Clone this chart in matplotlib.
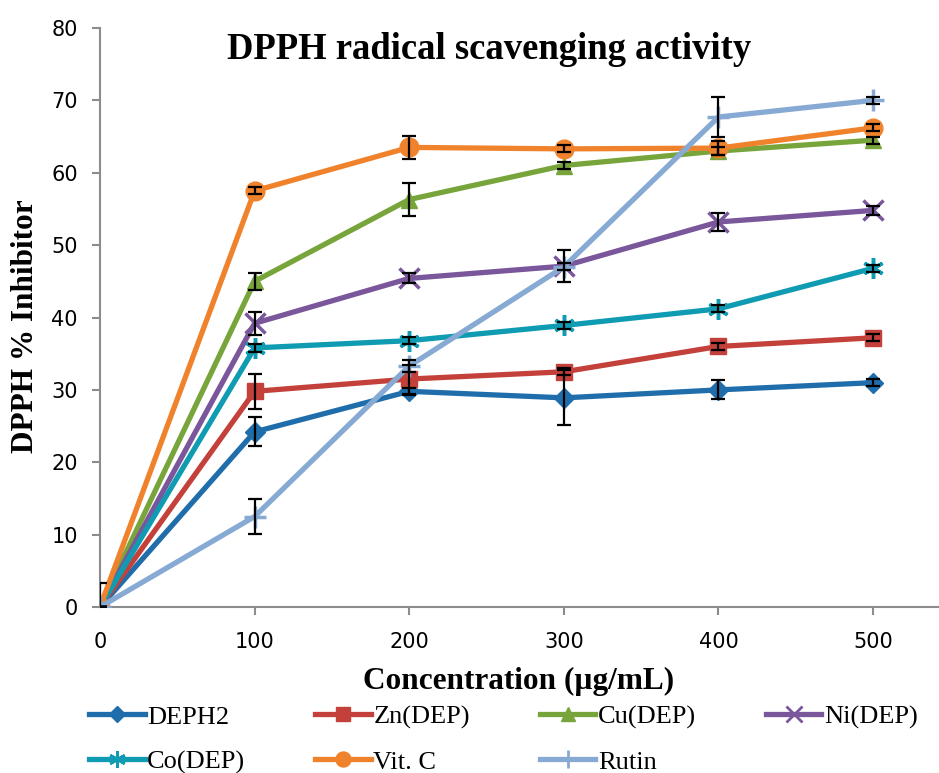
import numpy as np
import matplotlib
matplotlib.use("Agg")
import matplotlib.pyplot as plt
from matplotlib.lines import Line2D

# concentrations (ug/mL)
conc = [0, 100, 200, 300, 400, 500]

deph2 = [0, 24.2, 29.8, 28.9, 30.0, 31.0]
deph2_err = [0, 2.0, 0.5, 3.8, 1.3, 0.5]
zn = [0, 29.8, 31.5, 32.5, 36.0, 37.2]
zn_err = [0, 2.4, 2.0, 0.5, 0.5, 0.5]
cu = [0, 45.0, 56.3, 61.0, 63.0, 64.5]
cu_err = [0, 1.2, 2.3, 0.5, 0.5, 0.5]
ni = [0, 39.2, 45.4, 47.1, 53.2, 54.8]
ni_err = [0, 1.6, 0.7, 2.2, 1.2, 0.6]
co = [0, 35.8, 36.8, 38.9, 41.2, 46.8]
co_err = [0, 0.5, 0.5, 0.5, 0.5, 0.5]
vitc = [0, 57.5, 63.5, 63.3, 63.4, 66.2]
vitc_err = [0, 0.5, 1.6, 0.5, 1.0, 0.5]
rutin = [0, 12.5, 33.3, 47.0, 67.7, 70.0]
rutin_err = [3.3, 2.4, 0.8, 0.5, 2.7, 0.5]

labels = ["DEPH2", "Zn(DEP)", "Cu(DEP)", "Ni(DEP)", "Co(DEP)", "Vit. C", "Rutin"]
series = [deph2, zn, cu, ni, co, vitc, rutin]
errors = [deph2_err, zn_err, cu_err, ni_err, co_err, vitc_err, rutin_err]
colors = ["#1f6eab", "#c4413b", "#78a53b", "#7a569b", "#0f9bb2", "#f0822c", "#86aad3"]
markers = ["D", "s", "^", "x", (6, 2, 0), "o", "+"]
msizes = [10, 12, 12, 14, 15, 13.5, 16]

serif = "Liberation Serif"

fig = plt.figure(figsize=(9.39, 7.73), dpi=100)
ax = fig.add_axes([0.1065, 0.2147, 0.8925, 0.7491])

handles = []
for y, e, c, m, ms, lab in zip(series, errors, colors, markers, msizes, labels):
    thin = m in ("x", "+") or isinstance(m, tuple)
    ax.errorbar(conc, y, yerr=e, fmt="none", ecolor="black", elinewidth=1.6,
                capsize=5, capthick=1.6, zorder=3)
    ax.plot(conc, y, color=c, lw=3.8, marker=m, ms=ms, mew=2.5 if thin else 1,
            mec=c, mfc=c, zorder=2)
    handles.append(Line2D([], [], color=c, lw=3.8, marker=m, ms=ms * 0.8, mec=c, mfc=c,
                          mew=2 if thin else 1))

ax.set_xlim(0, 542)
ax.set_ylim(0, 80)
ax.set_xticks([0, 100, 200, 300, 400, 500])
ax.set_yticks(range(0, 81, 10))
for s in ["top", "right"]:
    ax.spines[s].set_visible(False)
for s in ["left", "bottom"]:
    ax.spines[s].set_color("#8c8c8c")
    ax.spines[s].set_linewidth(1.5)
    ax.spines[s].set_zorder(0)
ax.tick_params(axis="both", colors="#8c8c8c", length=6, width=1.5, labelsize=15,
               labelcolor="black")
ax.tick_params(axis="x", pad=12)
ax.tick_params(axis="y", pad=10)
for t in ax.get_xticklines()[:2]:
    t.set_visible(False)

ax.set_title("DPPH radical scavenging activity", fontfamily=serif, fontweight="bold",
             fontsize=26.4, x=0.464, y=0.932)
ax.set_xlabel("Concentration (µg/mL)", fontfamily=serif, fontweight="bold", fontsize=22.5,
              labelpad=11)
ax.set_ylabel("DPPH % Inhibitor", fontfamily=serif, fontweight="bold", fontsize=22.5)
ax.yaxis.set_label_coords(-0.072, 0.485)

# matplotlib fills legend columns first, so order the handles for row-wise reading
order = [0, 4, 1, 5, 2, 6, 3]
fig.legend([handles[i] for i in order], [labels[i] for i in order],
           loc="lower left", bbox_to_anchor=(0.081, -0.018), ncol=4,
           frameon=False, prop={"family": serif, "size": 19}, handlelength=2.1,
           handletextpad=0.1, columnspacing=2.65, labelspacing=0.8, borderpad=0.0)

fig.savefig("out.png", dpi=100)
